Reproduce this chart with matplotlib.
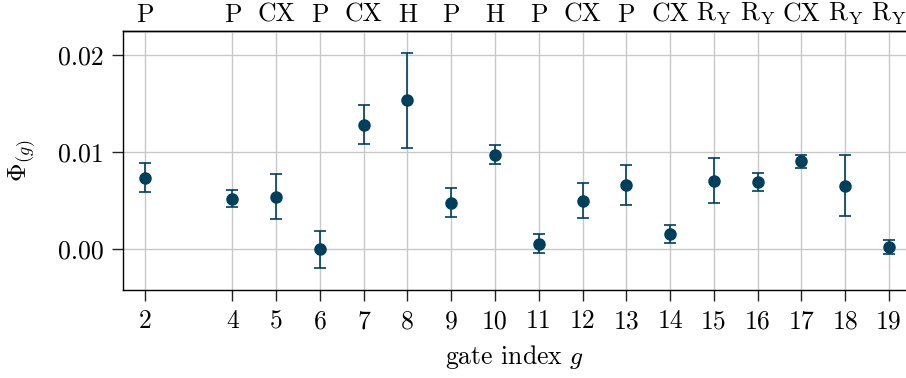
import matplotlib
matplotlib.use("Agg")
import matplotlib.pyplot as plt
import numpy as np

plt.rcParams['font.family'] = 'serif'
plt.rcParams['font.serif'] = ['cmr10']
plt.rcParams['mathtext.fontset'] = 'cm'
plt.rcParams['axes.formatter.use_mathtext'] = True

# gate index, gate type, Phi and its error
gates = [2, 4, 5, 6, 7, 8, 9, 10, 11, 12, 13, 14, 15, 16, 17, 18, 19]
gate_names = ['P', 'P', 'CX', 'P', 'CX', 'H', 'P', 'H', 'P', 'CX', 'P', 'CX',
              r'R$_\mathrm{Y}$', r'R$_\mathrm{Y}$', 'CX', r'R$_\mathrm{Y}$', r'R$_\mathrm{Y}$']
phi = [0.00736, 0.00522, 0.00542, 0.00000, 0.01280, 0.01532, 0.00478, 0.00972,
       0.00059, 0.00500, 0.00660, 0.00160, 0.00704, 0.00694, 0.00904, 0.00653, 0.00024]
phi_err = [0.00150, 0.00090, 0.00228, 0.00190, 0.00200, 0.00490, 0.00148, 0.00100,
           0.00095, 0.00180, 0.00205, 0.00092, 0.00232, 0.00093, 0.00068, 0.00312, 0.00070]
yticks = [0.00, 0.01, 0.02]

color = '#003f5c'
fs = 18.5

fig = plt.figure(figsize=(9.06, 3.78), dpi=100)
ax = fig.add_axes([123/906, 88/378, 783/906, 259/378])

ax.errorbar(gates, phi, yerr=phi_err, fmt='o', color=color, ecolor=color,
            markersize=8, elinewidth=1.2, capsize=4.5, capthick=1.2, zorder=3)

ax.set_xlim(1.5, 19.39)
ax.set_ylim(-0.00418, 0.02244)
ax.set_xticks(gates)
ax.set_xticklabels([str(g) for g in gates])
ax.set_yticks(yticks)
ax.set_yticklabels(['%.2f' % v for v in yticks])
ax.grid(True, color='#c8c8c8', linewidth=1.0, zorder=0)
ax.set_axisbelow(True)

ax.spines['right'].set_visible(False)
for s in ['left', 'bottom', 'top']:
    ax.spines[s].set_linewidth(1.0)
ax.tick_params(axis='both', direction='out', length=8, width=1.0,
               labelsize=fs, colors='#222222', labelcolor='black', pad=6)

ax.set_xlabel('gate index $g$', fontsize=fs, labelpad=7)
ax.set_ylabel(r'$\Phi_{(g)}$', fontsize=fs, labelpad=14)

top = ax.secondary_xaxis('top')
top.set_xticks(gates)
top.set_xticklabels(gate_names)
top.tick_params(axis='x', length=0, labelsize=fs, pad=3)
top.spines['top'].set_linewidth(1.0)

fig.savefig('out.png', dpi=100)
